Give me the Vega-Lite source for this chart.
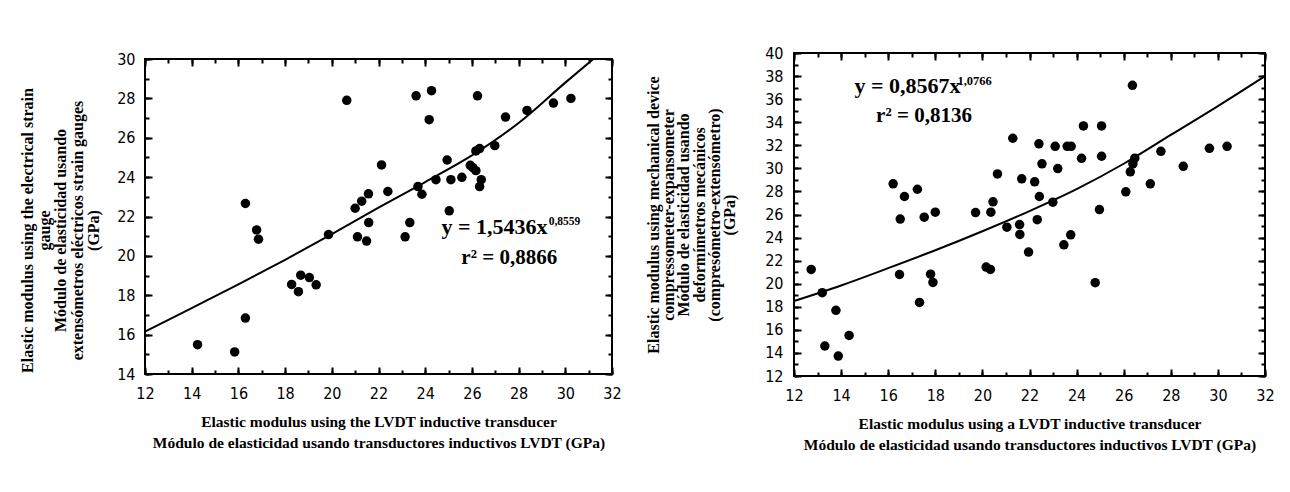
{
  "$schema": "https://vega.github.io/schema/vega-lite/v6.json",
  "background": "white",
  "padding": {"left": 18, "top": 44, "right": 5, "bottom": 5},
  "spacing": 21,
  "datasets": {
    "leftPoints": [
      {"x": 14.25, "y": 15.49}, {"x": 15.84, "y": 15.12}, {"x": 16.3, "y": 16.84}, {"x": 16.3, "y": 22.66},
      {"x": 16.78, "y": 21.32}, {"x": 16.86, "y": 20.85}, {"x": 18.28, "y": 18.55}, {"x": 18.57, "y": 18.18},
      {"x": 18.67, "y": 19.02}, {"x": 19.04, "y": 18.9}, {"x": 19.33, "y": 18.53}, {"x": 19.86, "y": 21.08},
      {"x": 20.64, "y": 27.9}, {"x": 21.0, "y": 22.42}, {"x": 21.1, "y": 20.97}, {"x": 21.28, "y": 22.78},
      {"x": 21.49, "y": 20.75}, {"x": 21.57, "y": 23.15}, {"x": 21.58, "y": 21.69}, {"x": 22.13, "y": 24.62},
      {"x": 22.4, "y": 23.27}, {"x": 23.14, "y": 20.97}, {"x": 23.34, "y": 21.69}, {"x": 23.61, "y": 28.13},
      {"x": 23.69, "y": 23.52}, {"x": 23.86, "y": 23.13}, {"x": 24.17, "y": 26.92}, {"x": 24.27, "y": 28.39},
      {"x": 24.46, "y": 23.87}, {"x": 24.94, "y": 24.87}, {"x": 25.03, "y": 22.29}, {"x": 25.1, "y": 23.87},
      {"x": 25.57, "y": 23.99}, {"x": 25.93, "y": 24.6}, {"x": 26.04, "y": 24.48}, {"x": 26.17, "y": 24.33},
      {"x": 26.17, "y": 25.33}, {"x": 26.24, "y": 28.13}, {"x": 26.33, "y": 25.45}, {"x": 26.33, "y": 23.52},
      {"x": 26.4, "y": 23.87}, {"x": 26.98, "y": 25.6}, {"x": 27.44, "y": 27.05}, {"x": 28.36, "y": 27.39},
      {"x": 29.49, "y": 27.76}, {"x": 30.24, "y": 28.0}
    ],
    "leftCurve": [
      {"x": 12, "y": 16.15}, {"x": 14, "y": 17.35}, {"x": 16, "y": 18.55}, {"x": 18, "y": 19.8},
      {"x": 20, "y": 21.1}, {"x": 22, "y": 22.45}, {"x": 24, "y": 23.75}, {"x": 26, "y": 25.1},
      {"x": 28, "y": 26.75}, {"x": 30, "y": 28.8}, {"x": 31.2, "y": 30.0}
    ],
    "leftEq": [{"x": 24.7, "y": 21.12, "t": "y = 1,5436x"}],
    "leftR2": [{"x": 27.6, "y": 19.58, "t": "r² = 0,8866"}],
    "leftSup": [{"x": 29.29, "y": 21.55, "t": "0,8559"}],
    "rightPoints": [
      {"x": 12.73, "y": 21.24}, {"x": 13.2, "y": 19.22}, {"x": 13.31, "y": 14.6}, {"x": 13.78, "y": 17.69},
      {"x": 13.88, "y": 13.73}, {"x": 14.34, "y": 15.52}, {"x": 16.21, "y": 28.66}, {"x": 16.48, "y": 20.8},
      {"x": 16.51, "y": 25.6}, {"x": 16.69, "y": 27.56}, {"x": 17.24, "y": 28.19}, {"x": 17.33, "y": 18.38},
      {"x": 17.53, "y": 25.77}, {"x": 17.8, "y": 20.83}, {"x": 17.9, "y": 20.11}, {"x": 18.0, "y": 26.2},
      {"x": 19.71, "y": 26.17}, {"x": 20.16, "y": 21.44}, {"x": 20.34, "y": 21.24}, {"x": 20.36, "y": 26.2},
      {"x": 20.45, "y": 27.1}, {"x": 20.64, "y": 29.52}, {"x": 21.04, "y": 24.9}, {"x": 21.29, "y": 32.61},
      {"x": 21.58, "y": 25.13}, {"x": 21.59, "y": 24.27}, {"x": 21.67, "y": 29.09}, {"x": 21.96, "y": 22.74},
      {"x": 22.22, "y": 28.83}, {"x": 22.33, "y": 25.55}, {"x": 22.4, "y": 32.13}, {"x": 22.42, "y": 27.56},
      {"x": 22.53, "y": 30.39}, {"x": 22.99, "y": 27.07}, {"x": 23.09, "y": 31.91}, {"x": 23.2, "y": 29.98},
      {"x": 23.46, "y": 23.37}, {"x": 23.6, "y": 31.91}, {"x": 23.75, "y": 24.24}, {"x": 23.77, "y": 31.91},
      {"x": 24.21, "y": 30.87}, {"x": 24.29, "y": 33.68}, {"x": 24.79, "y": 20.09}, {"x": 24.97, "y": 26.43},
      {"x": 25.06, "y": 33.68}, {"x": 25.06, "y": 31.05}, {"x": 26.09, "y": 27.97}, {"x": 26.28, "y": 29.7},
      {"x": 26.37, "y": 37.2}, {"x": 26.39, "y": 30.39}, {"x": 26.47, "y": 30.88}, {"x": 27.13, "y": 28.66},
      {"x": 27.58, "y": 31.48}, {"x": 28.53, "y": 30.18}, {"x": 29.64, "y": 31.74}, {"x": 30.39, "y": 31.91}
    ],
    "rightCurve": [
      {"x": 12, "y": 18.5}, {"x": 14, "y": 19.85}, {"x": 16, "y": 21.35}, {"x": 18, "y": 22.9},
      {"x": 20, "y": 24.55}, {"x": 22, "y": 26.3}, {"x": 24, "y": 28.2}, {"x": 26, "y": 30.4},
      {"x": 28, "y": 32.9}, {"x": 30, "y": 35.4}, {"x": 32, "y": 38.0}
    ],
    "rightEq": [{"x": 14.57, "y": 36.56, "t": "y = 0,8567x"}],
    "rightR2": [{"x": 17.52, "y": 34.0, "t": "r² = 0,8136"}],
    "rightSup": [{"x": 18.94, "y": 37.2, "t": "1,0766"}],
    "spacer": []
  },
  "hconcat": [
    {
      "vconcat": [
        {
          "width": 10,
          "height": 1,
          "data": {"name": "spacer"},
          "mark": "point",
          "encoding": {},
          "view": {"stroke": null}
        },
        {
          "width": 467,
          "height": 315,
          "resolve": {"axis": {"x": "independent", "y": "independent"}},
          "layer": [
            {
              "data": {"name": "leftPoints"},
              "mark": {"type": "circle", "size": 90, "color": "black", "opacity": 1},
              "encoding": {
                "x": {"field": "x", "type": "quantitative", "scale": {"domain": [12, 32], "nice": false, "zero": false},
                  "axis": {"orient": "bottom", "values": [12, 14, 16, 18, 20, 22, 24, 26, 28, 30, 32], "tickSize": 7, "offset": -7, "labelPadding": 11,
                    "title": ["Elastic modulus using the LVDT inductive transducer", "Módulo de elasticidad   usando transductores inductivos LVDT (GPa)"],
                    "titleFontSize": 15.5, "titleLineHeight": 21, "titlePadding": 13}},
                "y": {"field": "y", "type": "quantitative", "scale": {"domain": [14, 30], "nice": false, "zero": false},
                  "axis": {"orient": "left", "values": [14, 16, 18, 20, 22, 24, 26, 28, 30], "tickSize": 7, "offset": -7, "labelPadding": 10,
                    "title": ["Elastic modulus using the electrical strain", "gauge", "Módulo de elasticidad usando", "extensómetros eléctricos strain gauges", "(GPa)"],
                    "titleFontSize": 16, "titleLineHeight": 16.5, "titlePadding": 15, "titleY": 171}}
              }
            },
            {
              "data": {"name": "leftCurve"},
              "mark": {"type": "line", "color": "black", "strokeWidth": 2, "interpolate": "monotone"},
              "encoding": {
                "x": {"field": "x", "type": "quantitative", "axis": {"orient": "top", "values": [12, 14, 16, 18, 20, 22, 24, 26, 28, 30, 32], "tickSize": 7, "offset": -7, "labels": false, "title": null}},
                "y": {"field": "y", "type": "quantitative", "axis": {"orient": "right", "values": [14, 16, 18, 20, 22, 24, 26, 28, 30], "tickSize": 7, "offset": -7, "labels": false, "title": null}}
              }
            },
            {
              "data": {"name": "leftEq"},
              "mark": {"type": "text", "align": "left", "baseline": "alphabetic", "fontSize": 22},
              "encoding": {
                "x": {"field": "x", "type": "quantitative", "axis": {"orient": "bottom", "values": [12, 13, 14, 15, 16, 17, 18, 19, 20, 21, 22, 23, 24, 25, 26, 27, 28, 29, 30, 31, 32], "tickSize": 4, "offset": -4, "labels": false, "title": null}},
                "y": {"field": "y", "type": "quantitative", "axis": {"orient": "left", "values": [14, 15, 16, 17, 18, 19, 20, 21, 22, 23, 24, 25, 26, 27, 28, 29, 30], "tickSize": 4, "offset": -4, "labels": false, "title": null}},
                "text": {"field": "t"}
              }
            },
            {
              "data": {"name": "leftSup"},
              "mark": {"type": "text", "align": "left", "baseline": "alphabetic", "fontSize": 11.5},
              "encoding": {
                "x": {"field": "x", "type": "quantitative", "axis": {"orient": "top", "values": [12, 13, 14, 15, 16, 17, 18, 19, 20, 21, 22, 23, 24, 25, 26, 27, 28, 29, 30, 31, 32], "tickSize": 4, "offset": -4, "labels": false, "title": null}},
                "y": {"field": "y", "type": "quantitative", "axis": {"orient": "right", "values": [14, 15, 16, 17, 18, 19, 20, 21, 22, 23, 24, 25, 26, 27, 28, 29, 30], "tickSize": 4, "offset": -4, "labels": false, "title": null}},
                "text": {"field": "t"}
              }
            },
            {
              "data": {"name": "leftR2"},
              "mark": {"type": "text", "align": "center", "baseline": "alphabetic", "fontSize": 21},
              "encoding": {
                "x": {"field": "x", "type": "quantitative", "axis": null},
                "y": {"field": "y", "type": "quantitative", "axis": null},
                "text": {"field": "t"}
              }
            }
          ]
        }
      ],
      "spacing": 5,
      "bounds": "flush"
    },
    {
      "width": 471,
      "height": 323,
      "resolve": {"axis": {"x": "independent", "y": "independent"}},
      "layer": [
        {
          "data": {"name": "rightPoints"},
          "mark": {"type": "circle", "size": 90, "color": "black", "opacity": 1},
          "encoding": {
            "x": {"field": "x", "type": "quantitative", "scale": {"domain": [12, 32], "nice": false, "zero": false},
              "axis": {"orient": "bottom", "values": [12, 14, 16, 18, 20, 22, 24, 26, 28, 30, 32], "tickSize": 7, "offset": -7, "labelPadding": 11,
                "title": ["Elastic modulus using a LVDT inductive transducer", "Módulo de elasticidad usando transductores inductivos LVDT (GPa)"],
                "titleFontSize": 15.5, "titleLineHeight": 21, "titlePadding": 13}},
            "y": {"field": "y", "type": "quantitative", "scale": {"domain": [12, 40], "nice": false, "zero": false},
              "axis": {"orient": "left", "values": [12, 14, 16, 18, 20, 22, 24, 26, 28, 30, 32, 34, 36, 38, 40], "tickSize": 7, "offset": -7, "labelPadding": 11,
                "title": ["Elastic modulus using mechanical device", "compressometer-expansometer", "Módulo de elasticidad usando", "deformímetros mecánicos", "(compresómetro-extensómetro)", "(GPa)"],
                "titleFontSize": 16, "titleLineHeight": 15.3, "titlePadding": 27}}
          }
        },
        {
          "data": {"name": "rightCurve"},
          "mark": {"type": "line", "color": "black", "strokeWidth": 2, "interpolate": "monotone"},
          "encoding": {
            "x": {"field": "x", "type": "quantitative", "axis": {"orient": "top", "values": [12, 14, 16, 18, 20, 22, 24, 26, 28, 30, 32], "tickSize": 7, "offset": -7, "labels": false, "title": null}},
            "y": {"field": "y", "type": "quantitative", "axis": {"orient": "right", "values": [12, 14, 16, 18, 20, 22, 24, 26, 28, 30, 32, 34, 36, 38, 40], "tickSize": 7, "offset": -7, "labels": false, "title": null}}
          }
        },
        {
          "data": {"name": "rightEq"},
          "mark": {"type": "text", "align": "left", "baseline": "alphabetic", "fontSize": 22},
          "encoding": {
            "x": {"field": "x", "type": "quantitative", "axis": {"orient": "bottom", "values": [12, 13, 14, 15, 16, 17, 18, 19, 20, 21, 22, 23, 24, 25, 26, 27, 28, 29, 30, 31, 32], "tickSize": 4, "offset": -4, "labels": false, "title": null}},
            "y": {"field": "y", "type": "quantitative", "axis": {"orient": "left", "values": [12, 13, 14, 15, 16, 17, 18, 19, 20, 21, 22, 23, 24, 25, 26, 27, 28, 29, 30, 31, 32, 33, 34, 35, 36, 37, 38, 39, 40], "tickSize": 4, "offset": -4, "labels": false, "title": null}},
            "text": {"field": "t"}
          }
        },
        {
          "data": {"name": "rightSup"},
          "mark": {"type": "text", "align": "left", "baseline": "alphabetic", "fontSize": 12.5},
          "encoding": {
            "x": {"field": "x", "type": "quantitative", "axis": {"orient": "top", "values": [12, 13, 14, 15, 16, 17, 18, 19, 20, 21, 22, 23, 24, 25, 26, 27, 28, 29, 30, 31, 32], "tickSize": 4, "offset": -4, "labels": false, "title": null}},
            "y": {"field": "y", "type": "quantitative", "axis": {"orient": "right", "values": [12, 13, 14, 15, 16, 17, 18, 19, 20, 21, 22, 23, 24, 25, 26, 27, 28, 29, 30, 31, 32, 33, 34, 35, 36, 37, 38, 39, 40], "tickSize": 4, "offset": -4, "labels": false, "title": null}},
            "text": {"field": "t"}
          }
        },
        {
          "data": {"name": "rightR2"},
          "mark": {"type": "text", "align": "center", "baseline": "alphabetic", "fontSize": 21},
          "encoding": {
            "x": {"field": "x", "type": "quantitative", "axis": null},
            "y": {"field": "y", "type": "quantitative", "axis": null},
            "text": {"field": "t"}
          }
        }
      ]
    }
  ],
  "config": {
    "view": {"stroke": "black", "strokeWidth": 2},
    "axis": {"grid": false, "domain": false, "tickColor": "black", "tickWidth": 2, "labelFlush": false,
      "labelFont": "Liberation Sans Narrow, DejaVu Sans Condensed, Liberation Sans", "labelFontSize": 16, "labelColor": "black",
      "titleFont": "Liberation Serif", "titleFontWeight": "bold", "titleColor": "black"},
    "text": {"font": "Liberation Serif", "fontWeight": "bold", "color": "black"}
  }
}
